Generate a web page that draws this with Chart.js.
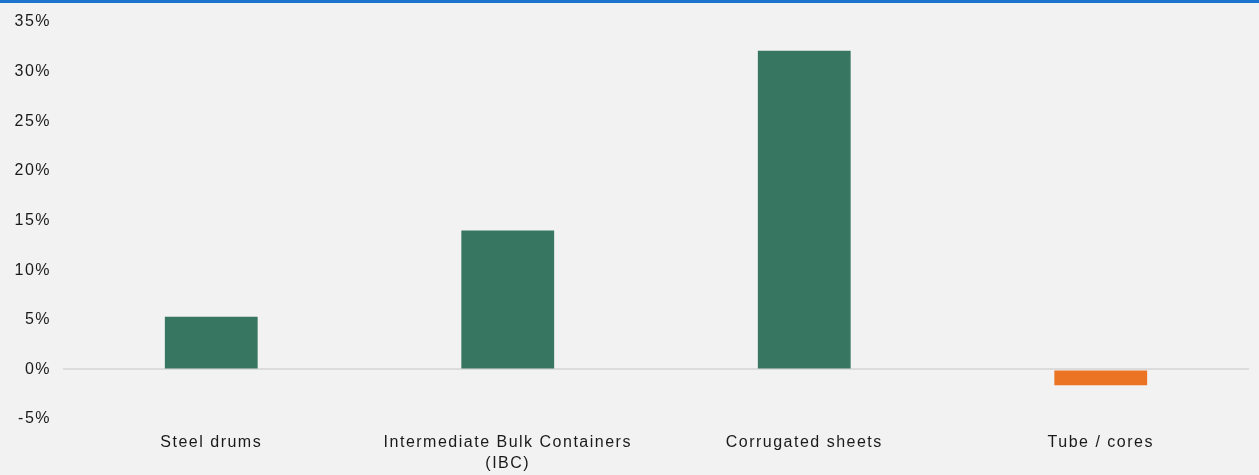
<!DOCTYPE html>
<html>
<head>
<meta charset="utf-8">
<script src="https://cdn.jsdelivr.net/npm/chart.js@4"></script>
<style>
  html, body { margin: 0; padding: 0; background: #f2f2f2; }
  #wrap { width: 1259px; height: 472px; border-top: 3px solid #1c74cc; background: #f2f2f2; }
</style>
</head>
<body>
<div id="wrap"><canvas id="grafico" width="1259" height="472"></canvas></div>
<script>
// categorias e variação (%)
const categorias = ['Steel drums', ['Intermediate Bulk Containers', '(IBC)'], 'Corrugated sheets', 'Tube / cores'];
const variacao = [5.3, 14.0, 32.1, -1.6];
const escalaY = { min: -5, max: 35, passo: 5 };

const VERDE = '#377661';
const LARANJA = '#eb7424';

// espaçamento entre letras, como no gráfico original
const espacamento = {
    id: 'espacamento',
    beforeLayout(chart) { chart.ctx.letterSpacing = '1.5px'; },
    beforeDraw(chart) { chart.ctx.letterSpacing = '1.5px'; }
};

const fonte = { family: '"Liberation Sans", Arial, sans-serif', size: 16, lineHeight: 1.3 };

new Chart(document.getElementById('grafico').getContext('2d'), {
    type: 'bar',
    data: {
        labels: categorias,
        datasets: [{
            data: variacao,
            backgroundColor: variacao.map(v => v < 0 ? LARANJA : VERDE),
            borderWidth: 0,
            categoryPercentage: 1,
            barPercentage: 0.313
        }]
    },
    options: {
        responsive: false,
        animation: false,
        layout: { padding: { top: 19, right: 10, left: 0, bottom: 0 } },
        plugins: { legend: { display: false }, tooltip: { enabled: false } },
        scales: {
            x: {
                grid: { display: false },
                border: { display: false },
                ticks: { color: '#1a1a1a', font: fonte, padding: 5, maxRotation: 0, autoSkip: false },
                afterFit(scale) { scale.height = 56; }
            },
            y: {
                min: escalaY.min,
                max: escalaY.max,
                border: { display: false },
                grid: {
                    drawTicks: false,
                    lineWidth: 2,
                    color: ctx => ctx.tick && ctx.tick.value === 0 ? '#dcdcdc' : 'rgba(0,0,0,0)'
                },
                ticks: {
                    stepSize: escalaY.passo,
                    color: '#1a1a1a',
                    font: fonte,
                    padding: 12,
                    callback: v => v + '%'
                },
                afterFit(scale) {
                    scale.width = 63;
                    scale.paddingTop = 0;
                    scale.paddingBottom = 0;
                }
            }
        }
    },
    plugins: [espacamento]
});
</script>
</body>
</html>
